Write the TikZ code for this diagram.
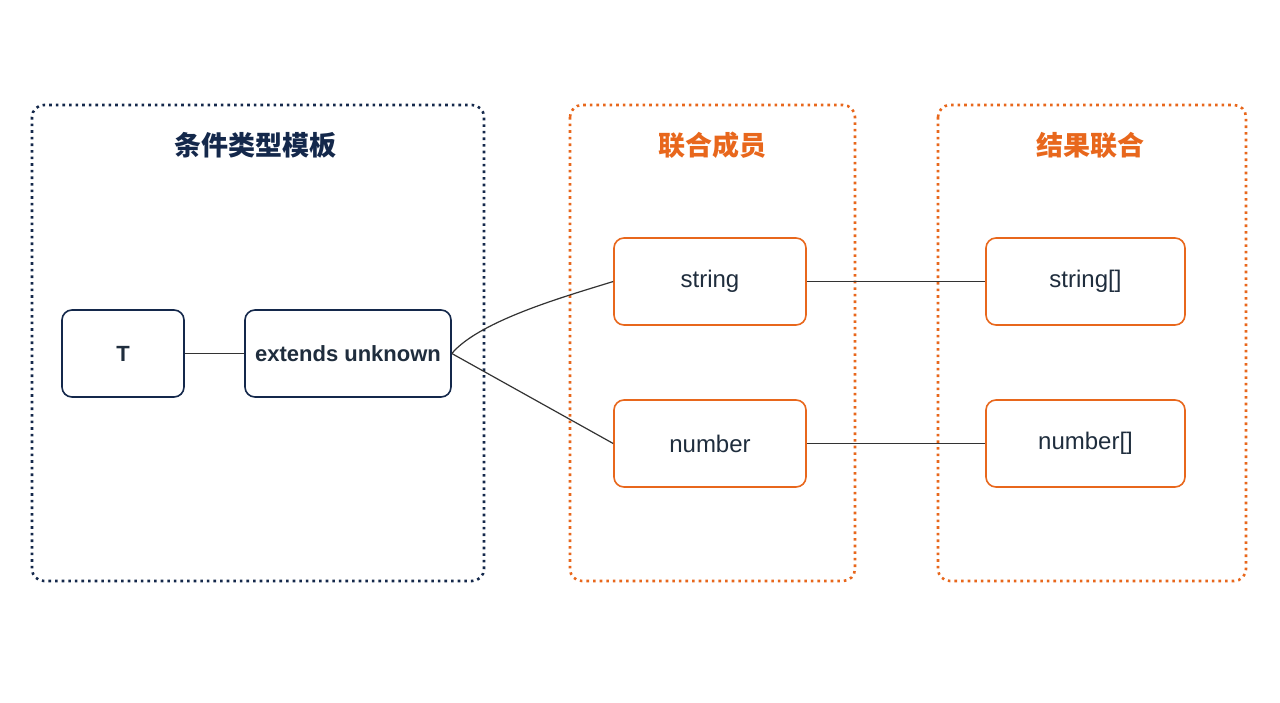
\documentclass[tikz,border=0pt]{standalone}
\usepackage{fontspec}
\setmainfont{Liberation Sans}
\newfontfamily\cjk{Noto Sans CJK SC}
\definecolor{navy}{HTML}{14284B}
\definecolor{org}{HTML}{E8671C}
\definecolor{txt}{HTML}{1F2D3D}
\definecolor{ln}{HTML}{333333}
\begin{document}
\begin{tikzpicture}[x=0.5pt,y=-0.5pt,
 frame/.style={draw, line width=1.3pt, dotted, rounded corners=6pt},
 box/.style={draw=#1, line width=0.8pt, rounded corners=5pt, text=txt, font=\fontsize{12}{14}\selectfont, minimum height=43.5pt},
 title/.style={font=\cjk\bfseries\fontsize{13.5}{16}\selectfont},
 conn/.style={ln, line width=0.6pt}]
\useasboundingbox (0,0) rectangle (1280,702);
\fill[white] (0,0) rectangle (1280,702);
\draw[frame,navy] (32,105) rectangle (484,581);
\draw[frame,org] (570,105) rectangle (855,581);
\draw[frame,org] (938,105) rectangle (1246,581);
\node[title,navy] (t1) at (255,145) {条件类型模板};
\node[title,org] (t2) at (712,145) {联合成员};
\node[title,org] (t3) at (1090,145) {结果联合};
\node[box=navy,minimum width=61pt,font=\bfseries\fontsize{11}{13}\selectfont] (T) at (123,353.5) {T};
\node[box=navy,minimum width=103pt,font=\bfseries\fontsize{11}{13}\selectfont] (E) at (348,353.5) {extends unknown};
\node[box=org,minimum width=96pt] (S) at (710,281.5) {string};
\node[box=org,minimum width=96pt] (N) at (710,443.5) {number};
\node[box=org,minimum width=99.5pt] (SA) at (1085.5,281.5) {string[]};
\node[box=org,minimum width=99.5pt] (NA) at (1085.5,443.5) {number[]};
\draw[conn] (T) -- (E);
\draw[conn] (E.east) .. controls (480,320) and (570,295) .. (S.west);
\draw[conn] (E.east) -- (N.west);
\draw[conn] (S) -- (SA);
\draw[conn] (N) -- (NA);
\end{tikzpicture}
\end{document}
